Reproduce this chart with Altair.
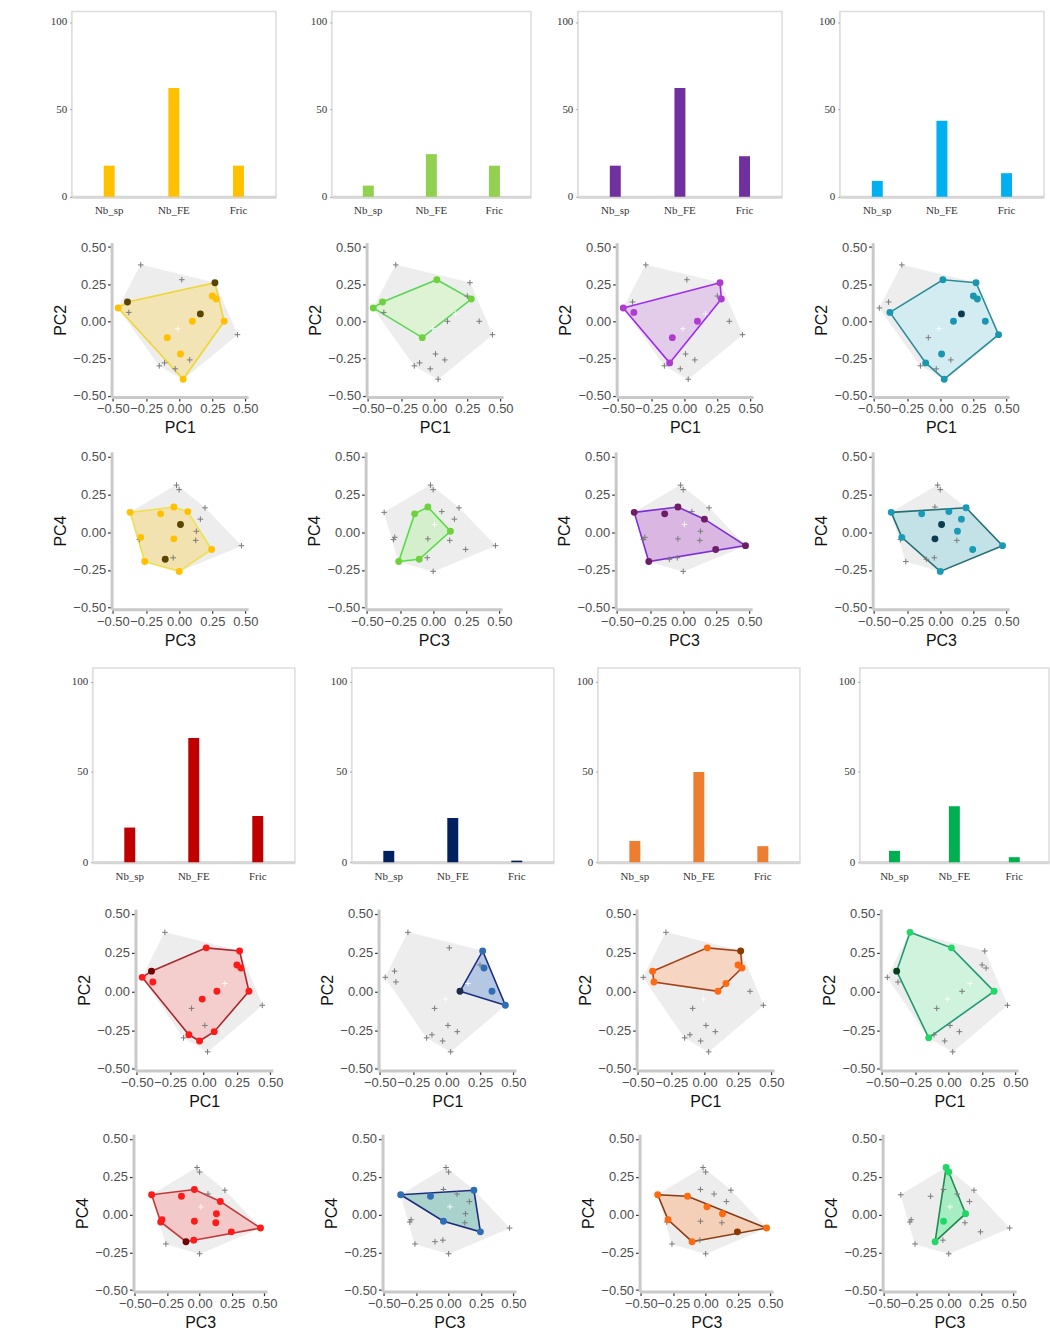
import altair as alt
import pandas as pd

# ---------------------------------------------------------------- data
# species pool, functional space PC1 / PC2
PC1 = [-0.29, 0.02, 0.27, 0.25, 0.28, -0.39, -0.46, -0.38, 0.16, 0.10,
       0.34, -0.09, 0.44, 0.01, 0.08, -0.11, -0.15, -0.03, 0.03, -0.01]
PC2 = [0.38, 0.28, 0.26, 0.17, 0.15, 0.13, 0.09, 0.06, 0.05, 0.00,
       0.00, -0.11, -0.09, -0.22, -0.26, -0.28, -0.30, -0.32, -0.39, -0.05]
FAINT_12 = [8, 19]

# species pool, functional space PC3 / PC4
PC3 = [-0.37, -0.14, -0.04, 0.065, 0.01, -0.29, -0.04, 0.245, -0.105, -0.26,
       0.00, -0.02, 0.00, 0.195, 0.16, 0.13, 0.125, 0.47, -0.045, -0.30]
PC4 = [0.13, 0.12, 0.165, 0.135, 0.05, -0.035, -0.045, -0.115, -0.18, -0.195,
       -0.26, 0.31, 0.28, 0.16, 0.085, 0.005, -0.055, -0.09, -0.17, -0.05]
FAINT_34 = [4]

METRICS = ["Nb_sp", "Nb_FE", "Fric"]

# assemblage A1..A8: bar values (% of the pool)
BAR_A1 = [17.8, 62.3, 17.8]
BAR_A2 = [6.4, 24.4, 17.8]
BAR_A3 = [17.8, 62.3, 23.2]
BAR_A4 = [9.1, 43.5, 13.5]
BAR_A5 = [19.2, 68.8, 25.6]
BAR_A6 = [6.3, 24.5, 0.9]
BAR_A7 = [11.8, 50.0, 8.9]
BAR_A8 = [6.3, 31.0, 2.8]

# species present in each assemblage (indices into the pools)
IN12_A1 = [6, 5, 2, 3, 4, 8, 9, 10, 11, 13, 18]
DK12_A1 = [5, 2, 8]
IN34_A1 = [0, 1, 2, 3, 4, 5, 6, 7, 8, 9, 10]
DK34_A1 = [4, 8]

IN12_A2 = [6, 5, 1, 4, 11]
DK12_A2 = []
IN34_A2 = [1, 2, 15, 8, 9]
DK34_A2 = []

IN12_A3 = [6, 7, 2, 4, 9, 11, 15]
DK12_A3 = []
IN34_A3 = [0, 1, 2, 14, 17, 7, 9]
DK34_A3 = []

IN12_A4 = [7, 1, 2, 3, 4, 8, 9, 10, 12, 13, 15, 18]
DK12_A4 = [8]
IN34_A4 = [0, 1, 3, 13, 14, 4, 15, 6, 5, 7, 17, 10]
DK34_A4 = [4, 6]

IN12_A5 = [6, 5, 7, 1, 2, 3, 4, 9, 19, 10, 15, 17, 14]
DK12_A5 = [5]
IN34_A5 = [0, 1, 2, 14, 15, 16, 6, 5, 19, 17, 7, 18, 8]
DK34_A5 = [8]

IN12_A6 = [9, 2, 4, 10, 12]
DK12_A6 = [9]
IN34_A6 = [0, 1, 13, 6, 7]
DK34_A6 = []

IN12_A7 = [5, 7, 1, 2, 3, 4, 8, 9]
DK12_A7 = [2]
IN34_A7 = [0, 1, 4, 15, 5, 8, 7, 17]
DK34_A7 = [7]

IN12_A8 = [0, 1, 10, 16, 5]
DK12_A8 = [5]
IN34_A8 = [11, 12, 15, 6, 8]
DK34_A8 = []

# ---------------------------------------------------------------- styling
BAR_COL = ["#FFC000", "#92D050", "#7030A0", "#00B0F0",
           "#C00000", "#002060", "#ED7D31", "#00B050"]

# (point, dark point, hull line, hull fill) for PC1/PC2 and PC3/PC4 panels
STY12 = [
    ("#FFC000", "#5A4500", "#EFD633", "#F2E4B4"),
    ("#6FD13B", "#2E6B12", "#5CD65A", "#DDF3D3"),
    ("#B03CCE", "#5E1A63", "#A02CF0", "#E3CBEA"),
    ("#1A97B0", "#0A3B4E", "#2B8D97", "#D3ECF2"),
    ("#FF1A1A", "#6E0000", "#A8282D", "#F4CDCD"),
    ("#2F6DB5", "#1C2C4A", "#1F2C7E", "#B4C8E4"),
    ("#FF6A10", "#8A3A00", "#A5431C", "#F6D6C3"),
    ("#20D865", "#0C3B1C", "#1F9A70", "#CFF3DD"),
]
STY34 = [
    ("#FFC000", "#5A4500", "#EFE050", "#F2E2B0"),
    ("#6FD13B", "#2E6B12", "#55DD44", "#D4EFCB"),
    ("#6E1E66", "#6E1E66", "#7C2FD8", "#DAB6E2"),
    ("#1A9BB5", "#0A3B4E", "#256E72", "#C3E2E7"),
    ("#FF1A1A", "#6E0000", "#C0393B", "#F3C8C8"),
    ("#2F6DB5", "#1C2C4A", "#1F2C7E", "#A9D2CD"),
    ("#FF6A10", "#8A3A00", "#8A3A10", "#F4D0B8"),
    ("#20D865", "#0C3B1C", "#1E8C4E", "#A6EDC4"),
]

SANS = "Liberation Sans"
SERIF = "Liberation Serif"
PLUS = "M-1,0L1,0M0,-1L0,1"
TICKS = [-0.5, -0.25, 0.0, 0.25, 0.5]


def convex_hull(points):
    pts = sorted(set(points))
    if len(pts) <= 2:
        return pts

    def cross(o, a, b):
        return (a[0] - o[0]) * (b[1] - o[1]) - (a[1] - o[1]) * (b[0] - o[0])

    lower, upper = [], []
    for p in pts:
        while len(lower) >= 2 and cross(lower[-2], lower[-1], p) <= 0:
            lower.pop()
        lower.append(p)
    for p in reversed(pts):
        while len(upper) >= 2 and cross(upper[-2], upper[-1], p) <= 0:
            upper.pop()
        upper.append(p)
    return lower[:-1] + upper[:-1]


def polygon_frame(points):
    ring = convex_hull(points)
    ring = ring + ring[:1]
    return pd.DataFrame({"x": [p[0] for p in ring], "y": [p[1] for p in ring],
                         "k": list(range(len(ring)))})


def sc_axis(title):
    return alt.Axis(title=title, values=TICKS, format=".2f", grid=False,
                    domainColor="#C9C9C9", domainWidth=3,
                    tickColor="#333333", tickSize=4, tickWidth=1.2,
                    labelColor="#4D4D4D", labelFont=SANS, labelFontSize=13,
                    labelPadding=2, labelOverlap=False, labelFlush=False,
                    titleFont=SANS, titleFontSize=16, titleFontWeight="normal",
                    titleColor="#111111", titlePadding=4)


def scatter(xs, ys, faint, members, dark, style, xt, yt, w, h):
    point_c, dark_c, line_c, fill_c = style
    n = len(xs)
    pool = [(xs[i], ys[i]) for i in range(n)]
    sub = [pool[i] for i in members]
    out_idx = [i for i in range(n) if i not in members]

    xsc = alt.Scale(domain=[-0.51, 0.52], nice=False, zero=False)
    ysc = alt.Scale(domain=[-0.51, 0.53], nice=False, zero=False)
    X = alt.X("x:Q", scale=xsc, axis=sc_axis(xt))
    Y = alt.Y("y:Q", scale=ysc, axis=sc_axis(yt))

    pool_poly = alt.Chart(polygon_frame(pool)).mark_line(
        fill="#EDEDED", stroke="#EDEDED", strokeWidth=0.5
    ).encode(x=X, y=Y, order="k:Q")
    sub_poly = alt.Chart(polygon_frame(sub)).mark_line(
        fill=fill_c, stroke=line_c, strokeWidth=1.6
    ).encode(x=X, y=Y, order="k:Q")

    grey = [i for i in out_idx if i not in faint]
    white = [i for i in out_idx if i in faint]
    crosses = alt.Chart(pd.DataFrame({"x": [xs[i] for i in grey],
                                      "y": [ys[i] for i in grey]})).mark_point(
        shape=PLUS, size=32, filled=False, stroke="#7A7A7A", strokeWidth=1, opacity=1
    ).encode(x=X, y=Y)
    layers = [pool_poly, sub_poly, crosses]
    if white:
        layers.append(alt.Chart(pd.DataFrame({"x": [xs[i] for i in white],
                                              "y": [ys[i] for i in white]})).mark_point(
            shape=PLUS, size=32, filled=False, stroke="#FFFFFF", strokeWidth=1, opacity=0.9
        ).encode(x=X, y=Y))

    light = [i for i in members if i not in dark]
    layers.append(alt.Chart(pd.DataFrame({"x": [xs[i] for i in light],
                                          "y": [ys[i] for i in light]})).mark_circle(
        size=48, color=point_c, opacity=1).encode(x=X, y=Y))
    if dark:
        layers.append(alt.Chart(pd.DataFrame({"x": [xs[i] for i in dark],
                                              "y": [ys[i] for i in dark]})).mark_circle(
            size=48, color=dark_c, opacity=1).encode(x=X, y=Y))
    return alt.layer(*layers).properties(width=w, height=h)


def bars(vals, color, w, h, top):
    df = pd.DataFrame({"m": METRICS, "v": vals})
    return alt.Chart(df, view=alt.ViewBackground(stroke="#DDDDDD", strokeWidth=1.5)).mark_bar(
        width=11, color=color
    ).encode(
        x=alt.X("m:N", sort=METRICS,
                scale=alt.Scale(paddingInner=0, paddingOuter=0.08),
                axis=alt.Axis(title=None, labelAngle=0, ticks=False,
                              domainColor="#D6D6D6", domainWidth=3,
                              labelFont=SERIF, labelFontSize=11, labelColor="#333333",
                              labelPadding=8)),
        y=alt.Y("v:Q", scale=alt.Scale(domain=[0, top], nice=False),
                axis=alt.Axis(title=None, values=[0, 50, 100], grid=False,
                              domainColor="#E3E3E3", domainWidth=1,
                              tickSize=2, tickColor="#999999",
                              labelFont=SERIF, labelFontSize=11, labelColor="#333333",
                              labelPadding=3)),
    ).properties(width=w, height=h)


def spacer(w, h):
    return alt.Chart(pd.DataFrame({"v": [0]})).mark_point(opacity=0).encode(
        x=alt.value(0), y=alt.value(0)).properties(width=w, height=h)


def row(panels, gaps, start):
    # blank blocks set where the row starts and the gap before each panel
    items = [spacer(start, 1)]
    for k, p in enumerate(panels):
        if k:
            items.append(spacer(gaps[k - 1], 1))
        items.append(p)
    return alt.hconcat(*items, spacing=0)


IN12 = [IN12_A1, IN12_A2, IN12_A3, IN12_A4, IN12_A5, IN12_A6, IN12_A7, IN12_A8]
DK12 = [DK12_A1, DK12_A2, DK12_A3, DK12_A4, DK12_A5, DK12_A6, DK12_A7, DK12_A8]
IN34 = [IN34_A1, IN34_A2, IN34_A3, IN34_A4, IN34_A5, IN34_A6, IN34_A7, IN34_A8]
DK34 = [DK34_A1, DK34_A2, DK34_A3, DK34_A4, DK34_A5, DK34_A6, DK34_A7, DK34_A8]
BARS = [BAR_A1, BAR_A2, BAR_A3, BAR_A4, BAR_A5, BAR_A6, BAR_A7, BAR_A8]

bar_w1 = [205, 200, 205, 205]
row1 = row([bars(BARS[i], BAR_COL[i], bar_w1[i], 186, 106) for i in range(4)],
           [29, 20, 31], 46)
row2 = row([scatter(PC1, PC2, FAINT_12, IN12[i], DK12[i], STY12[i], "PC1", "PC2", 137, 155)
            for i in range(4)], [47, 42, 48], 50)
row3 = row([scatter(PC3, PC4, FAINT_34, IN34[i], DK34[i], STY34[i], "PC3", "PC4", 137, 158)
            for i in range(4)], [46, 42, 49], 50)
bar_w4 = [203, 203, 203, 190]
row4 = row([bars(BARS[i], BAR_COL[i], bar_w4[i - 4], 195, 107.5) for i in range(4, 8)],
           [30, 17, 33], 67)
row5 = row([scatter(PC1, PC2, FAINT_12, IN12[i], DK12[i], STY12[i], "PC1", "PC2", 138, 162)
            for i in range(4, 8)], [34, 49, 35], 74)
row6 = row([scatter(PC3, PC4, FAINT_34, IN34[i], DK34[i], STY34[i], "PC3", "PC4", 134, 158)
            for i in range(4, 8)], [43, 51, 37], 72)

chart = alt.vconcat(
    row1, spacer(1, 20), row2, spacer(1, 10), row3, spacer(1, 14),
    row4, spacer(1, 21), row5, spacer(1, 19), row6,
    spacing=0,
).properties(
    padding={"left": 0, "top": 6, "right": 0, "bottom": 0},
    background="white",
).configure_view(stroke=None)

chart.save("out.html", embed_options={"renderer": "svg", "actions": False})
